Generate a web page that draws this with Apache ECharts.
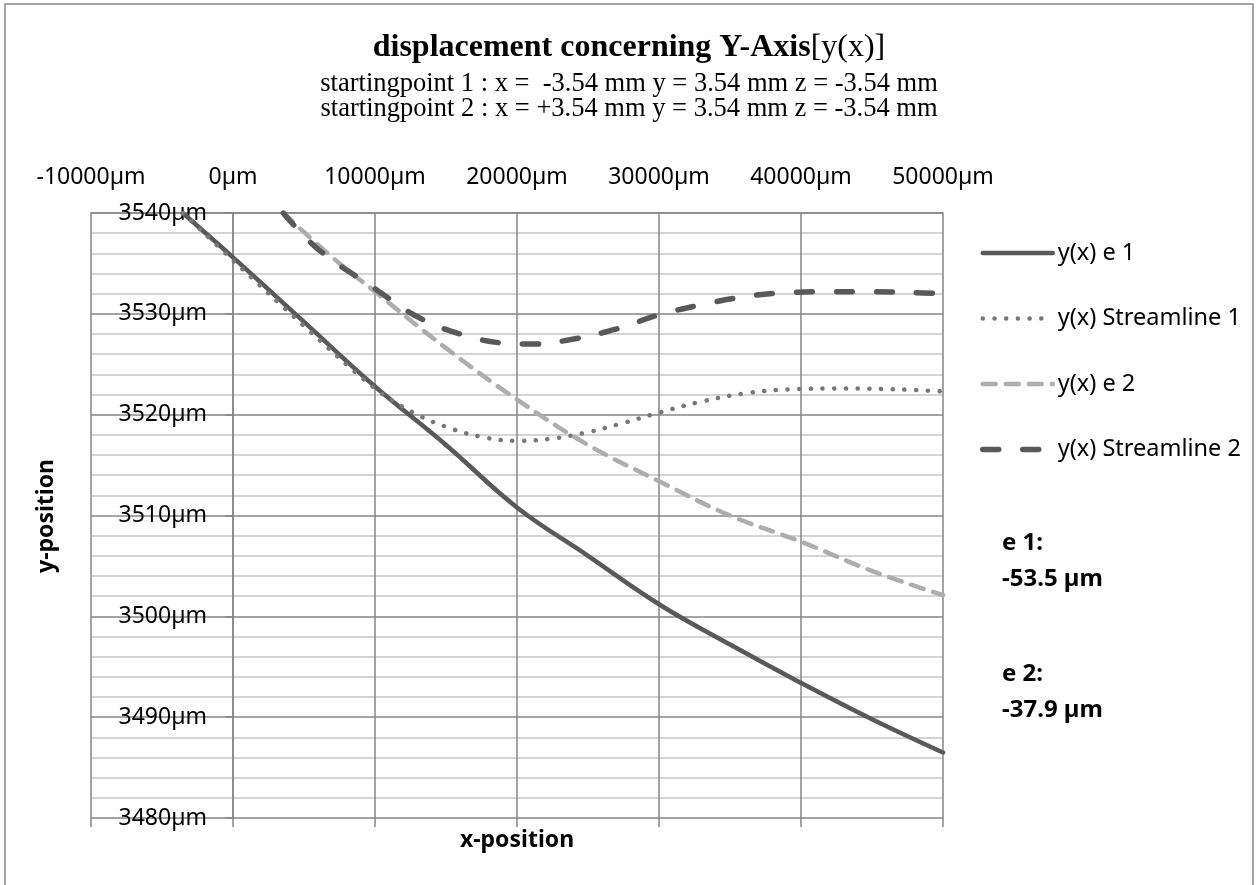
<!DOCTYPE html>
<html>
<head>
<meta charset="utf-8">
<title>displacement concerning Y-Axis</title>
<script src="https://cdn.jsdelivr.net/npm/echarts@6/dist/echarts.min.js"></script>
<style>
html, body { margin: 0; padding: 0; background: #fff; }
#chart { width: 1258px; height: 885px; }
</style>
</head>
<body>
<div id="chart"></div>
<script>
// values (x in µm, y in µm)
const e1X = [-3540, 0, 5000, 10000, 15000, 20000, 25000, 30000, 35000, 40000, 45000, 50000]
const e1Y = [3540, 3535.6, 3529.2, 3522.8, 3517.0, 3510.8, 3506.0, 3501.2, 3497.2, 3493.4, 3489.8, 3486.5]

const sl1X = [-3540, 0, 5000, 10000, 12700, 15000, 17500, 20000, 22300, 24800, 27300, 30000, 33000, 36000, 39000, 43000, 47000, 50000]
const sl1Y = [3540, 3535.3, 3528.8, 3522.6, 3520.2, 3518.8, 3517.8, 3517.4, 3517.6, 3518.2, 3519.1, 3520.2, 3521.3, 3522.1, 3522.5, 3522.6, 3522.5, 3522.3]

const e2X = [3540, 7000, 10000, 15000, 20000, 25000, 30000, 35000, 40000, 45000, 50000]
const e2Y = [3540, 3535.6, 3532.2, 3526.6, 3521.5, 3517.0, 3513.4, 3510.0, 3507.4, 3504.5, 3502.1]

const sl2X = [3540, 6000, 10000, 13000, 16000, 19000, 21000, 24000, 27000, 30000, 33000, 36000, 39000, 42000, 45000, 48000, 50000]
const sl2Y = [3540, 3536.4, 3532.5, 3529.7, 3528.0, 3527.1, 3527.0, 3527.5, 3528.5, 3529.9, 3530.9, 3531.7, 3532.1, 3532.2, 3532.2, 3532.1, 3532.0]

const seriesNames = ['y(x) e 1', 'y(x) Streamline 1', 'y(x) e 2', 'y(x) Streamline 2']
const xTicks = { min: -10000, max: 50000, interval: 10000 }
const yTicks = { min: 3480, max: 3540, interval: 10 }
const deviations = [['e 1:', '-53.5 µm'], ['e 2:', '-37.9 µm']]

const pairs = (xs, ys) => xs.map((x, i) => [x, ys[i]])

const sans = '"Noto Sans", "Open Sans", sans-serif'
const serif = '"Liberation Serif", "DejaVu Serif", serif'
const gridColor = '#868686'

// line looks, shared by the series and their legend icons
const styles = [
  { color: '#595959', width: 4.5, type: 'solid', cap: 'round' },
  { color: '#777777', width: 4.5, type: [0.1, 11.6], cap: 'round' },
  { color: '#adadad', width: 4.5, type: [13, 10], cap: 'round' },
  { color: '#595959', width: 5.5, type: [16, 24], cap: 'round' }
]

const chart = echarts.init(document.getElementById('chart'))

const lineSeries = (i, data) => ({
  name: seriesNames[i],
  type: 'line',
  xAxisIndex: 0,
  yAxisIndex: 0,
  data: data,
  symbol: 'none',
  showSymbol: false,
  smooth: 0.4,
  color: styles[i].color,
  itemStyle: { color: styles[i].color, opacity: 0 },
  lineStyle: styles[i],
  emphasis: { disabled: true }
})

const option = {
  animation: false,
  title: [
    {
      left: 'center',
      top: 27,
      text: '{b|displacement concerning Y-Axis}{n|[y(x)]}',
      textStyle: {
        rich: {
          b: { fontFamily: serif, fontWeight: 'bold', fontSize: 32, color: '#000' },
          n: { fontFamily: serif, fontWeight: 'normal', fontSize: 32, color: '#000' }
        }
      }
    },
    {
      left: 'center',
      top: 67,
      text: 'startingpoint 1 : x =  -3.54 mm y = 3.54 mm z = -3.54 mm\nstartingpoint 2 : x = +3.54 mm y = 3.54 mm z = -3.54 mm',
      textStyle: { fontFamily: serif, fontWeight: 'normal', fontSize: 26.5, color: '#000', lineHeight: 25 }
    }
  ],
  legend: {
    orient: 'vertical',
    left: 975,
    top: 236,
    itemWidth: 70,
    itemHeight: 20,
    itemGap: 41.5,
    selectedMode: false,
    itemStyle: { opacity: 0 },
    textStyle: { fontFamily: sans, fontSize: 23.5, color: '#000', lineHeight: 20 },
    data: seriesNames.map((name, i) => ({
      name: name,
      itemStyle: { opacity: 0 },
      lineStyle: styles[i]
    }))
  },
  grid: {
    left: 91,
    top: 213,
    right: 315,
    bottom: 67,
    containLabel: false,
    outerBoundsMode: 'none'
  },
  xAxis: [
    {
      type: 'value',
      position: 'top',
      min: xTicks.min,
      max: xTicks.max,
      interval: xTicks.interval,
      axisLine: { show: true, onZero: false, lineStyle: { color: gridColor, width: 1.5 } },
      axisTick: { show: false },
      axisLabel: {
        margin: 24,
        fontFamily: sans,
        fontSize: 23,
        color: '#000',
        showMinLabel: true,
        showMaxLabel: true,
        formatter: v => v + 'µm'
      },
      splitLine: { show: true, lineStyle: { color: gridColor, width: 1.5 } }
    },
    {
      type: 'value',
      position: 'bottom',
      min: xTicks.min,
      max: xTicks.max,
      interval: xTicks.interval,
      axisLine: { show: false, onZero: false },
      axisTick: { show: true, length: 9, inside: false, lineStyle: { color: gridColor, width: 1.5 } },
      axisLabel: { show: false },
      splitLine: { show: false }
    }
  ],
  yAxis: {
    type: 'value',
    position: 'left',
    // the axis crosses at x = 0, one tick step (142px) inside the left edge
    offset: -142,
    min: yTicks.min,
    max: yTicks.max,
    interval: yTicks.interval,
    axisLine: { show: true, onZero: false, lineStyle: { color: gridColor, width: 1.5 } },
    axisTick: { show: true, length: 8, inside: false, lineStyle: { color: gridColor, width: 1.5 } },
    minorTick: { show: false, splitNumber: 5 },
    minorSplitLine: { show: true, lineStyle: { color: '#c6c6c6', width: 1.5 } },
    splitLine: { show: true, lineStyle: { color: gridColor, width: 1.5 } },
    axisLabel: {
      margin: 26,
      fontFamily: sans,
      fontSize: 23,
      color: '#000',
      formatter: v => v + 'µm'
    }
  },
  series: [
    lineSeries(0, pairs(e1X, e1Y)),
    lineSeries(1, pairs(sl1X, sl1Y)),
    lineSeries(2, pairs(e2X, e2Y)),
    lineSeries(3, pairs(sl2X, sl2Y))
  ],
  graphic: [
    {
      type: 'rect',
      shape: { x: 5, y: 4, width: 1248, height: 900 },
      style: { fill: 'none', stroke: gridColor, lineWidth: 1.5 },
      silent: true
    },
    {
      type: 'text',
      x: 46,
      y: 516,
      rotation: Math.PI / 2,
      style: {
        text: 'y-position',
        fontFamily: sans,
        fontWeight: 'bold',
        fontSize: 23,
        fill: '#000',
        align: 'center',
        verticalAlign: 'middle'
      }
    },
    {
      type: 'text',
      x: 517,
      y: 840,
      style: {
        text: 'x-position',
        fontFamily: sans,
        fontWeight: 'bold',
        fontSize: 23,
        fill: '#000',
        align: 'center',
        verticalAlign: 'middle'
      }
    },
    {
      type: 'text',
      x: 1002,
      y: 561,
      style: {
        text: deviations[0][0] + '\n' + deviations[0][1],
        fontFamily: sans,
        fontWeight: 'bold',
        fontSize: 24,
        lineHeight: 36,
        fill: '#000',
        verticalAlign: 'middle'
      }
    },
    {
      type: 'text',
      x: 1002,
      y: 692,
      style: {
        text: deviations[1][0] + '\n' + deviations[1][1],
        fontFamily: sans,
        fontWeight: 'bold',
        fontSize: 24,
        lineHeight: 36,
        fill: '#000',
        verticalAlign: 'middle'
      }
    }
  ]
}

chart.setOption(option)
window.addEventListener('resize', () => {
  chart.resize()
})
</script>
</body>
</html>
